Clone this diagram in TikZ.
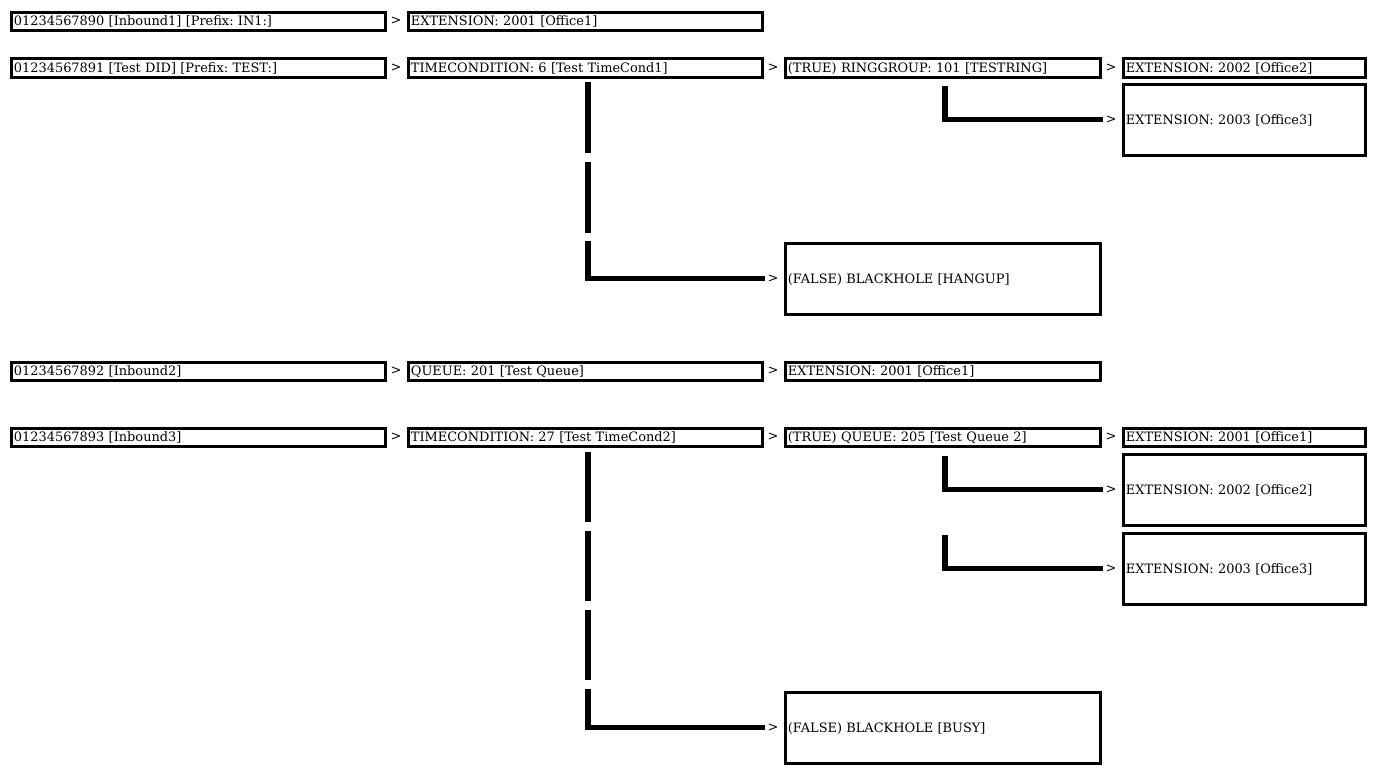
\documentclass[tikz,border=0pt]{standalone}
\usepackage{fontspec}
\setmainfont{DejaVu Serif}
\frenchspacing
\tikzset{
  box/.style={draw, line width=2.25pt, anchor=north west, align=left,
    inner xsep=2pt, inner ysep=0pt, text height=7.2pt, text depth=0.2pt,
    font=\fontsize{9.7}{11}\selectfont},
  gt/.style={inner sep=1.5pt, font=\fontsize{9.7}{11}\selectfont},
  conn/.style={line width=4pt, line cap=butt, line join=miter}
}
\newcommand\bx[6]{%
  \pgfmathsetlengthmacro\bxw{(#4-#2-3)*0.75pt-4pt}%
  \pgfmathsetlengthmacro\bxh{(#5-#3-3)*0.75pt}%
  \node[box, text width=\bxw, minimum height=\bxh] (#1) at ({#2+0.75},{#3+0.75}) {#6};}
\begin{document}
\begin{tikzpicture}[x=0.75pt,y=-0.75pt]
\useasboundingbox (0,0) rectangle (1383,775);
% row 1
\bx{a1}{9}{10}{386}{31}{01234567890 [Inbound1] [Prefix: IN1:]}
\node[gt] (ga2) at (396,21) {>};
\bx{a2}{406}{10}{763}{31}{EXTENSION: 2001 [Office1]}
% row 2
\bx{b1}{9}{56}{386}{78}{01234567891 [Test DID] [Prefix: TEST:]}
\node[gt] (gb2) at (396,67.5) {>};
\bx{b2}{406}{56}{763}{78}{TIMECONDITION: 6 [Test TimeCond1]}
\node[gt] (gb3) at (773,67.5) {>};
\bx{b3}{783}{56}{1101}{78}{(TRUE) RINGGROUP: 101 [TESTRING]}
\node[gt] (gb4) at (1111,67.5) {>};
\bx{b4}{1121}{56}{1366}{78}{EXTENSION: 2002 [Office2]}
\node[gt] (gb5) at (1111,119.5) {>};
\bx{b5}{1121}{82}{1366}{156}{EXTENSION: 2003 [Office3]}
\node[gt] (gb6) at (773,278.5) {>};
\bx{b6}{783}{241}{1101}{315}{(FALSE) BLACKHOLE [HANGUP]}
% row 3
\bx{c1}{9}{360}{386}{381}{01234567892 [Inbound2]}
\node[gt] (gc2) at (396,371) {>};
\bx{c2}{406}{360}{763}{381}{QUEUE: 201 [Test Queue]}
\node[gt] (gc3) at (773,371) {>};
\bx{c3}{783}{360}{1101}{381}{EXTENSION: 2001 [Office1]}
% row 4
\bx{d1}{9}{426}{386}{447}{01234567893 [Inbound3]}
\node[gt] (gd2) at (396,437) {>};
\bx{d2}{406}{426}{763}{447}{TIMECONDITION: 27 [Test TimeCond2]}
\node[gt] (gd3) at (773,437) {>};
\bx{d3}{783}{426}{1101}{447}{(TRUE) QUEUE: 205 [Test Queue 2]}
\node[gt] (gd4) at (1111,437) {>};
\bx{d4}{1121}{426}{1366}{447}{EXTENSION: 2001 [Office1]}
\node[gt] (gd5) at (1111,489.5) {>};
\bx{d5}{1121}{452}{1366}{526}{EXTENSION: 2002 [Office2]}
\node[gt] (gd6) at (1111,568.5) {>};
\bx{d6}{1121}{531}{1366}{605}{EXTENSION: 2003 [Office3]}
\node[gt] (gd7) at (773,727.5) {>};
\bx{d7}{783}{690}{1101}{764}{(FALSE) BLACKHOLE [BUSY]}
% connectors
\coordinate (rg1) at (945,86);
\draw[conn] (rg1) |- (gb5.west);
\coordinate (tc1a) at (588,82);
\coordinate (tc1b) at (588,241);
\draw[conn, dash pattern=on 53.25pt off 6.4pt] (tc1a) -- (tc1b);
\draw[conn] (tc1b) |- (gb6.west);
\coordinate (q1) at (945,456);
\draw[conn] (q1) |- (gd5.west);
\coordinate (q2) at (945,535);
\draw[conn] (q2) |- (gd6.west);
\coordinate (tc2a) at (588,452);
\coordinate (tc2b) at (588,690);
\draw[conn, dash pattern=on 52.5pt off 6.75pt] (tc2a) -- (tc2b);
\draw[conn] (tc2b) |- (gd7.west);
\end{tikzpicture}
\end{document}
